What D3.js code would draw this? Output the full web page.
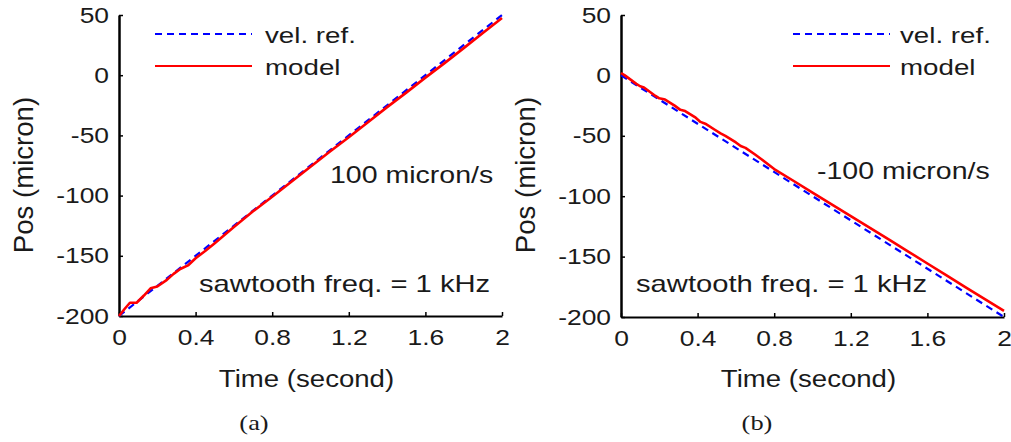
<!DOCTYPE html>
<html>
<head>
<meta charset="utf-8">
<script src="https://cdn.jsdelivr.net/npm/d3@7/dist/d3.min.js"></script>
<style>
  html, body { margin: 0; padding: 0; background: #fff; }
  svg { display: block; }
  text { font-family: "Liberation Sans", Arial, sans-serif; fill: #1a1a1a; }
</style>
</head>
<body>
<svg id="chart" width="1011" height="442"></svg>
<script>
// ---------------- data ----------------
const xTicks = [0, 0.4, 0.8, 1.2, 1.6, 2];
const xTickLabels = ["0", "0.4", "0.8", "1.2", "1.6", "2"];
const yTicks = [-200, -150, -100, -50, 0, 50];
const yTickLabels = ["-200", "-150", "-100", "-50", "0", "50"];

const seriesNames = ["vel. ref.", "model"];

// panel (a): +100 micron/s
const refTimeA = [0, 2];
const refPosA = [-200, 50];
const modelTimeA = [0, 0.03, 0.057, 0.092, 0.13, 0.165, 0.2, 0.25, 0.285, 0.32, 0.36, 0.4, 0.45, 0.5,
  0.6, 0.7, 0.8, 0.9, 1.0, 1.1, 1.2, 1.3, 1.4, 1.5, 1.6, 1.7, 1.8, 1.9, 2.0];
const modelPosA = [-200, -194, -189, -189, -183, -177, -175.5, -170, -165, -161, -158, -152, -146, -139.5,
  -126, -113, -101, -88.5, -76, -63.5, -51.5, -39, -26.5, -14.5, -2, 10, 22.5, 35, 47.5];

// panel (b): -100 micron/s
const refTimeB = [0, 2];
const refPosB = [0, -200];
const modelTimeB = [0, 0.02, 0.08, 0.1, 0.12, 0.18, 0.2, 0.23, 0.28, 0.31, 0.335, 0.39, 0.415, 0.44,
  0.49, 0.52, 0.545, 0.6, 0.625, 0.65, 0.7, 0.73, 0.8, 0.9, 1.0, 1.1, 1.2, 1.3, 1.4, 1.5, 1.6, 1.7, 1.8, 1.9, 2.0];
const modelPosB = [2, 0, -7, -9, -10, -17, -19, -20, -25, -28.5, -29.5, -35, -38.5, -40,
  -45, -48, -50, -55.5, -58.5, -60, -65.5, -69, -77.5, -87.2, -97, -106.8, -116.5, -126.2, -136, -145.8,
  -155.7, -165.5, -175.4, -185.2, -195];

const panels = [
  { refT: refTimeA, refV: refPosA, modT: modelTimeA, modV: modelPosA,
    speed: "100 micron/s", freq: "sawtooth freq. = 1 kHz", tag: "(a)",
    x0: 119, x1: 502, y0: 316, y1: 15,
    speedX: 330, speedY: 183, freqX: 199, freqY: 292,
    legLineX: 155, legTextX: 265, tagX: 254, ylabX: 33 },
  { refT: refTimeB, refV: refPosB, modT: modelTimeB, modV: modelPosB,
    speed: "-100 micron/s", freq: "sawtooth freq. = 1 kHz", tag: "(b)",
    x0: 621, x1: 1004, y0: 317, y1: 15,
    speedX: 817, speedY: 179, freqX: 636, freqY: 292,
    legLineX: 793, legTextX: 900, tagX: 757, ylabX: 535 }
];

const SX = 1.2;      // horizontal glyph stretch of the original rendering (ticks)
const SX_TXT = 1.26; // stretch for legend / annotations

const svg = d3.select("#chart");

function addText(g, str, x, y, size, anchor, sx) {
  return g.append("text")
    .attr("transform", `translate(${x},${y}) scale(${sx},1)`)
    .attr("text-anchor", anchor)
    .style("font-size", size + "px")
    .text(str);
}

panels.forEach(p => {
  const x = d3.scaleLinear().domain([0, 2]).range([p.x0, p.x1]);
  const y = d3.scaleLinear().domain([-200, 50]).range([p.y0, p.y1]);
  const g = svg.append("g");

  // axes
  const yAxis = d3.axisLeft(y).tickValues(yTicks)
    .tickFormat((d, i) => yTickLabels[i])
    .tickSizeInner(-4).tickSizeOuter(0).tickPadding(10);
  const yg = g.append("g").attr("transform", `translate(${p.x0},0)`).call(yAxis);
  yg.select(".domain").attr("stroke", "#000").attr("stroke-width", 2.5);
  yg.selectAll(".tick line").attr("stroke", "#000").attr("stroke-width", 1.5);
  yg.selectAll(".tick text")
    .attr("x", null).attr("dy", null)
    .attr("transform", `translate(-10,7) scale(${SX},1)`)
    .attr("fill", "#1a1a1a")
    .style("font-size", "22px").style("font-family", "Liberation Sans, Arial, sans-serif");

  const xAxis = d3.axisBottom(x).tickValues(xTicks)
    .tickFormat((d, i) => xTickLabels[i])
    .tickSizeInner(-4).tickSizeOuter(0).tickPadding(13);
  const xg = g.append("g").attr("transform", `translate(0,${p.y0})`).call(xAxis);
  xg.select(".domain").attr("stroke", "#000").attr("stroke-width", 2);
  xg.selectAll(".tick line").attr("stroke", "#000").attr("stroke-width", 1.5);
  xg.selectAll(".tick text")
    .attr("y", null).attr("dy", null)
    .attr("transform", `translate(0,29) scale(${SX},1)`)
    .attr("fill", "#1a1a1a")
    .style("font-size", "22px").style("font-family", "Liberation Sans, Arial, sans-serif");

  // data lines
  const line = d3.line().x(d => x(d[0])).y(d => y(d[1]));
  const refData = p.refT.map((t, i) => [t, p.refV[i]]);
  const modData = p.modT.map((t, i) => [t, p.modV[i]]);

  g.append("path").datum(refData).attr("d", line)
    .attr("fill", "none").attr("stroke", "#0000ff").attr("stroke-width", 2.2)
    .attr("stroke-dasharray", "7,5");
  g.append("path").datum(modData).attr("d", line)
    .attr("fill", "none").attr("stroke", "#ff0000").attr("stroke-width", 2.6)
    .attr("stroke-linejoin", "round");

  // legend
  const legY = [34, 66];
  g.append("line").attr("x1", p.legLineX).attr("x2", p.legLineX + 97)
    .attr("y1", legY[0]).attr("y2", legY[0])
    .attr("stroke", "#0000ff").attr("stroke-width", 2).attr("stroke-dasharray", "7,5");
  g.append("line").attr("x1", p.legLineX).attr("x2", p.legLineX + 97)
    .attr("y1", legY[1]).attr("y2", legY[1])
    .attr("stroke", "#ff0000").attr("stroke-width", 2);
  addText(g, seriesNames[0], p.legTextX, legY[0] + 9, 22, "start", SX_TXT);
  addText(g, seriesNames[1], p.legTextX, legY[1] + 9, 22, "start", SX_TXT);

  // annotations
  addText(g, p.speed, p.speedX, p.speedY, 23, "start", 1.24);
  addText(g, p.freq, p.freqX, p.freqY, 23, "start", 1.27);

  // axis labels
  addText(g, "Time (second)", (p.x0 + p.x1) / 2 - 4, 387, 24, "middle", 1.15);
  g.append("text")
    .attr("transform", `translate(${p.ylabX},175) rotate(-90) scale(1.15)`)
    .attr("text-anchor", "middle")
    .style("font-size", "24px")
    .text("Pos (micron)");

  // panel tag
  g.append("text")
    .attr("transform", `translate(${p.tagX},430) scale(1.2,1)`)
    .attr("text-anchor", "middle")
    .style("font-family", "'Liberation Serif', 'DejaVu Serif', serif")
    .style("font-size", "22px")
    .text(p.tag);
});
</script>
</body>
</html>
